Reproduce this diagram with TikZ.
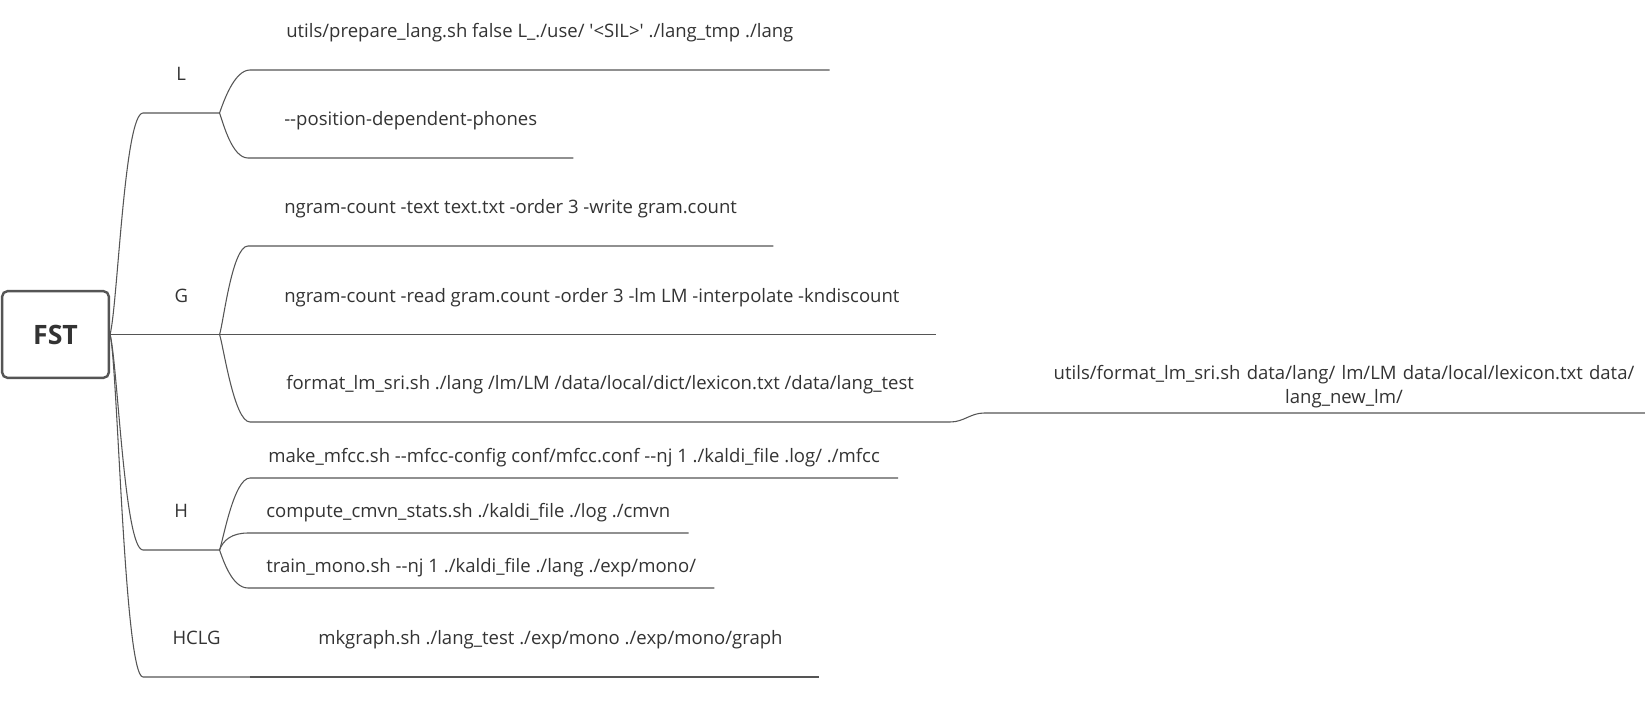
\documentclass[tikz,border=0pt]{standalone}
\usepackage{fontspec}
\setmainfont{Open Sans}
\definecolor{linegray}{HTML}{555555}
\definecolor{textgray}{HTML}{333333}

\begin{document}
\begin{tikzpicture}[
    x=0.75pt, y=0.75pt,
    font=\fontsize{13.9}{16}\selectfont,
    text=textgray,
    root/.style = {
        rectangle,
        rounded corners=4pt,
        draw=linegray,
        line width=1.8pt,
        minimum width=80pt,
        minimum height=65pt,
        font=\fontsize{20}{24}\selectfont\bfseries
    },
    topic/.style = {
        anchor=south west,
        minimum width=57pt,
        minimum height=55pt,
        inner sep=0pt,
        text height=10.5pt,
        text depth=3.5pt
    },
    leaf/.style = {
        anchor=south west,
        minimum height=55pt,
        inner xsep=27pt,
        inner ysep=0pt,
        text height=10.5pt,
        text depth=3.5pt
    },
    leafh/.style = {leaf, minimum height=30pt, inner xsep=13.5pt},
    link/.style = {draw=linegray, line width=0.8pt},
    rise/.style = {out=75, in=180, out distance=22pt, in distance=14pt},
    fall/.style = {out=-75, in=180, out distance=22pt, in distance=14pt},
    twigup/.style = {out=70, in=180, out distance=8pt, in distance=12pt},
    twigdown/.style = {out=-70, in=180, out distance=8pt, in distance=12pt}
]
\useasboundingbox (0,0) rectangle (1645,-709);

%% Root
\node[root] (fst) at (55.5,-334.5) {FST};

%% Main topics
\node[topic] (L) at (143,-113) {L};
\node[topic] (G) at (143,-334.5) {G};
\node[topic] (H) at (143,-550) {H};
\node[topic, minimum width=80pt] (HCLG) at (143,-677) {HCLG};

%% Commands
\node[leaf] (l1) at (250,-70) {utils/prepare\_lang.sh false L\_./use/ \textquotesingle<SIL>\textquotesingle\ ./lang\_tmp ./lang};
\node[leaf] (l2) at (248,-158) {-{}-position-dependent-phones};
\node[leaf] (g1) at (248,-246) {ngram-count -text text.txt -order 3 -write gram.count};
\node[leaf] (g2) at (248,-334.5) {ngram-count -read gram.count -order 3 -lm LM -interpolate -kndiscount};
\node[leaf] (g3) at (250,-422) {format\_lm\_sri.sh ./lang /lm/LM /data/local/dict/lexicon.txt /data/lang\_test};
\node[leafh] (h1) at (250,-478) {make\_mfcc.sh -{}-mfcc-config conf/mfcc.conf -{}-nj 1 ./kaldi\_file .log/ ./mfcc};
\node[leafh] (h2) at (248,-533) {compute\_cmvn\_stats.sh ./kaldi\_file ./log ./cmvn};
\node[leafh] (h3) at (248,-588) {train\_mono.sh -{}-nj 1 ./kaldi\_file ./lang ./exp/mono/};
\node[leaf] (mk) at (282,-677) {mkgraph.sh ./lang\_test ./exp/mono ./exp/mono/graph};
\node[anchor=south east, text width=451pt, align=center, inner sep=0pt,
      minimum height=39pt, font=\fontsize{13.9}{18}\selectfont] (sri) at (1645,-413)
    {utils/format\_lm\_sri.sh data/lang/ lm/LM data/local/lexicon.txt data/\\lang\_new\_lm/};
\coordinate (sriL) at ([shift={(34,9)}]g3.south east);

%% Branches from the root
\draw[link] (fst.east) to[rise] (L.south west) -- (L.south east);
\draw[link] (fst.east) -- (G.south west) -- (G.south east);
\draw[link] (fst.east) to[fall] (H.south west) -- (H.south east);
\draw[link] (fst.east) to[fall] (HCLG.south west) -- (HCLG.south east);

%% Branches to the commands
\draw[link] (L.south east) to[twigup] (l1.south west) -- (l1.south east);
\draw[link] (L.south east) to[twigdown] (l2.south west) -- (l2.south east);
\draw[link] (G.south east) to[twigup] (g1.south west) -- (g1.south east);
\draw[link] (G.south east) -- (g2.south west) -- (g2.south east);
\draw[link] (G.south east) to[twigdown] (g3.south west) -- (g3.south east);
\draw[link] (H.south east) to[twigup] (h1.south west) -- (h1.south east);
\draw[link] (H.south east) to[twigup] (h2.south west) -- (h2.south east);
\draw[link] (H.south east) to[twigdown] (h3.south west) -- (h3.south east);
\draw[link] (HCLG.south east) -- (mk.south east);
\draw[link] (g3.south east) to[out=0, in=180] (sriL) -- (sri.south east);

\end{tikzpicture}
\end{document}
